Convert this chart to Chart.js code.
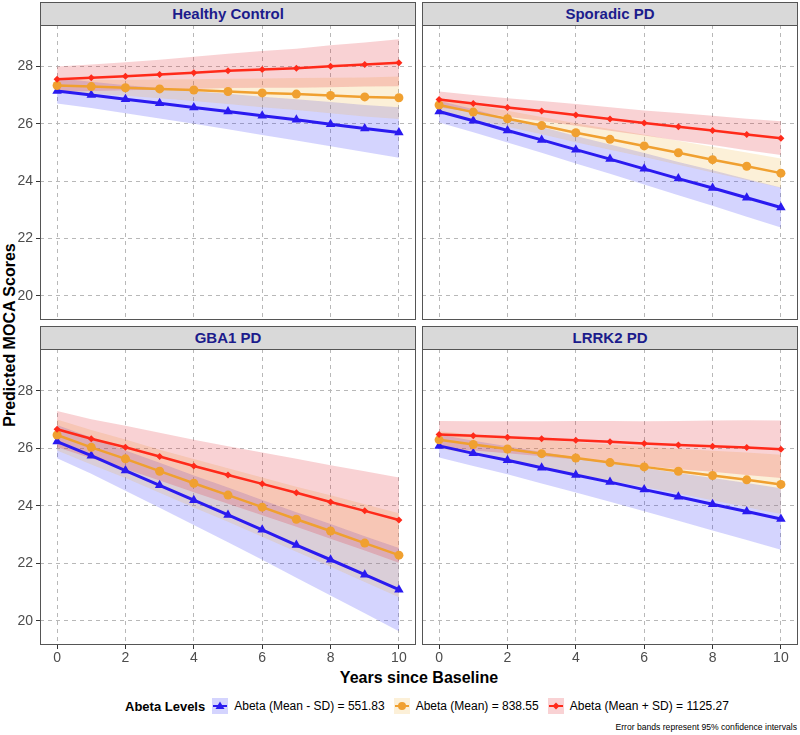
<!DOCTYPE html>
<html>
<head>
<meta charset="utf-8">
<script src="https://cdn.jsdelivr.net/npm/chart.js@4.4.0/dist/chart.umd.min.js"></script>
<style>
body { margin: 0; background: #fff; font-family: "Liberation Sans", Arial, sans-serif; }
#wrap { position: relative; width: 800px; height: 735px; overflow: hidden; }
.strip { position: absolute; background: #d9d9d9; border: 1px solid #555; box-sizing: border-box;
         color: #1c1c8c; font-weight: bold; font-size: 15px; text-align: center; }
.cv { position: absolute; }
#ytitle { position: absolute; left: 10px; top: 335px; transform: translate(-50%, -50%) rotate(-90deg);
          font-weight: bold; font-size: 16px; white-space: nowrap; color: #000; }
#xtitle { position: absolute; left: 419px; top: 669px; transform: translateX(-50%);
          font-weight: bold; font-size: 16px; white-space: nowrap; color: #000; }
#legend { position: absolute; left: 125px; top: 697px; height: 18px; display: flex; align-items: center;
          font-size: 12px; color: #000; white-space: nowrap; }
#legend b { font-size: 13px; margin-right: 7px; }
#legend .item { display: flex; align-items: center; margin-right: 9px; }
#legend svg { margin-right: 6px; }
#note { position: absolute; right: 3px; top: 722px; font-size: 8.6px; color: #000; white-space: nowrap; }
</style>
</head>
<body>
<div id="wrap">
  <div id="ytitle">Predicted MOCA Scores</div>
  <div id="xtitle">Years since Baseline</div>
  <div id="legend"></div>
  <div id="note">Error bands represent 95% confidence intervals</div>
</div>
<script>
const years = [0, 1, 2, 3, 4, 5, 6, 7, 8, 9, 10];
const xTicks = [0, 2, 4, 6, 8, 10];
const yTicks = [20, 22, 24, 26, 28];
const panelNames = ['Healthy Control', 'Sporadic PD', 'GBA1 PD', 'LRRK2 PD'];
const seriesLabels = ['Abeta (Mean - SD) = 551.83', 'Abeta (Mean) = 838.55', 'Abeta (Mean + SD) = 1125.27'];

// Healthy Control
const hcLow = [27.15, 27.01, 26.86, 26.72, 26.57, 26.43, 26.28, 26.14, 25.99, 25.84, 25.70];
const hcLowCI = [0.44, 0.46, 0.49, 0.53, 0.57, 0.62, 0.67, 0.72, 0.77, 0.82, 0.88];
const hcMid = [27.34, 27.30, 27.26, 27.22, 27.18, 27.13, 27.08, 27.04, 26.99, 26.94, 26.91];
const hcMidCI = [0.20, 0.24, 0.28, 0.33, 0.38, 0.44, 0.50, 0.56, 0.62, 0.68, 0.74];
const hcHigh = [27.56, 27.61, 27.66, 27.72, 27.78, 27.85, 27.90, 27.94, 28.01, 28.07, 28.13];
const hcHighCI = [0.44, 0.46, 0.49, 0.52, 0.56, 0.60, 0.64, 0.68, 0.73, 0.77, 0.82];

// Sporadic PD
const spLow = [26.43, 26.11, 25.77, 25.44, 25.10, 24.77, 24.43, 24.09, 23.76, 23.42, 23.08];
const spLowCI = [0.38, 0.40, 0.42, 0.45, 0.48, 0.51, 0.55, 0.58, 0.62, 0.66, 0.70];
const spMid = [26.66, 26.41, 26.18, 25.94, 25.69, 25.46, 25.23, 24.99, 24.75, 24.52, 24.28];
const spMidCI = [0.25, 0.26, 0.28, 0.30, 0.33, 0.36, 0.39, 0.42, 0.45, 0.48, 0.51];
const spHigh = [26.85, 26.71, 26.57, 26.45, 26.31, 26.17, 26.03, 25.90, 25.77, 25.63, 25.50];
const spHighCI = [0.28, 0.30, 0.32, 0.35, 0.38, 0.41, 0.44, 0.48, 0.51, 0.55, 0.59];

// GBA1 PD
const gbLow = [26.23, 25.74, 25.22, 24.71, 24.19, 23.68, 23.16, 22.63, 22.12, 21.60, 21.08];
const gbLowCI = [0.58, 0.63, 0.70, 0.78, 0.86, 0.95, 1.04, 1.14, 1.24, 1.34, 1.45];
const gbMid = [26.46, 26.03, 25.63, 25.20, 24.78, 24.37, 23.95, 23.53, 23.12, 22.70, 22.28];
const gbMidCI = [0.54, 0.60, 0.67, 0.75, 0.84, 0.93, 1.03, 1.13, 1.24, 1.35, 1.46];
const gbHigh = [26.66, 26.33, 26.03, 25.71, 25.38, 25.07, 24.76, 24.45, 24.13, 23.82, 23.50];
const gbHighCI = [0.63, 0.68, 0.75, 0.83, 0.91, 1.00, 1.09, 1.18, 1.28, 1.38, 1.48];

// LRRK2 PD
const lrLow = [26.08, 25.82, 25.58, 25.32, 25.07, 24.82, 24.56, 24.31, 24.05, 23.80, 23.54];
const lrLowCI = [0.40, 0.44, 0.49, 0.55, 0.61, 0.68, 0.75, 0.83, 0.91, 0.99, 1.07];
const lrMid = [26.29, 26.13, 25.97, 25.81, 25.66, 25.50, 25.35, 25.20, 25.05, 24.90, 24.74];
const lrMidCI = [0.30, 0.35, 0.41, 0.48, 0.55, 0.63, 0.70, 0.78, 0.86, 0.95, 1.03];
const lrHigh = [26.48, 26.43, 26.38, 26.33, 26.28, 26.22, 26.16, 26.11, 26.07, 26.02, 25.96];
const lrHighCI = [0.47, 0.51, 0.56, 0.61, 0.67, 0.73, 0.78, 0.84, 0.89, 0.95, 1.00];

const lineColors = ['#2a1af0', '#f0a030', '#ff2a1a'];
const bandColors = ['rgba(40,40,250,0.2)', 'rgba(240,180,60,0.2)', 'rgba(225,30,40,0.2)'];
const pointStyles = ['triangle', 'circle', 'rectRot'];
const pointSizes = [5.5, 4.5, 3.5];
const lineWidths = [3, 2.5, 2.5];

const panelData = [
    [[hcLow, hcLowCI], [hcMid, hcMidCI], [hcHigh, hcHighCI]],
    [[spLow, spLowCI], [spMid, spMidCI], [spHigh, spHighCI]],
    [[gbLow, gbLowCI], [gbMid, gbMidCI], [gbHigh, gbHighCI]],
    [[lrLow, lrLowCI], [lrMid, lrMidCI], [lrHigh, lrHighCI]]
];

// panel plot areas (left, top, width, height) of the facet grid
const layout = [
    { x: 40, y: 25, w: 376, h: 295, stripY: 2, left: true, bottom: false },
    { x: 422, y: 25, w: 376, h: 295, stripY: 2, left: false, bottom: false },
    { x: 40, y: 349, w: 376, h: 296, stripY: 326, left: true, bottom: true },
    { x: 422, y: 349, w: 376, h: 296, stripY: 326, left: false, bottom: true }
];

const yAxisW = 40;
const xAxisH = 22;

const boxPlugin = {
    id: 'panelBox',
    afterDraw(chart) {
        const a = chart.chartArea;
        const ctx = chart.ctx;
        ctx.save();
        ctx.strokeStyle = '#555';
        ctx.lineWidth = 1;
        ctx.strokeRect(Math.round(a.left) + 0.5, Math.round(a.top) + 0.5,
            Math.round(a.right - a.left) - 1, Math.round(a.bottom - a.top) - 1);
        ctx.restore();
    }
};

function makeDatasets(series) {
    const sets = [];
    series.forEach(([mean, ci], i) => {
        const lowerIdx = sets.length;
        sets.push({
            data: years.map((x, k) => ({ x, y: mean[k] - ci[k] })),
            borderWidth: 0, pointRadius: 0, fill: false, order: 20 - i * 2
        });
        sets.push({
            data: years.map((x, k) => ({ x, y: mean[k] + ci[k] })),
            borderWidth: 0, pointRadius: 0, backgroundColor: bandColors[i],
            fill: { target: lowerIdx }, order: 19 - i * 2
        });
    });
    series.forEach(([mean], i) => {
        sets.push({
            label: seriesLabels[i],
            data: years.map((x, k) => ({ x, y: mean[k] })),
            borderColor: lineColors[i], backgroundColor: lineColors[i],
            borderWidth: lineWidths[i], pointStyle: pointStyles[i],
            pointRadius: pointSizes[i], pointBorderWidth: 0,
            fill: false, order: 3 - i
        });
    });
    return sets;
}

const wrap = document.getElementById('wrap');

layout.forEach((p, idx) => {
    const strip = document.createElement('div');
    strip.className = 'strip';
    strip.style.left = p.x + 'px';
    strip.style.top = p.stripY + 'px';
    strip.style.width = p.w + 'px';
    strip.style.height = (p.y - p.stripY + 1) + 'px';
    strip.style.lineHeight = (p.y - p.stripY - 1) + 'px';
    strip.textContent = panelNames[idx];
    wrap.appendChild(strip);

    const cw = p.w + (p.left ? yAxisW : 0);
    const ch = p.h + (p.bottom ? xAxisH : 0);
    const canvas = document.createElement('canvas');
    canvas.className = 'cv';
    canvas.style.left = (p.x - (p.left ? yAxisW : 0)) + 'px';
    canvas.style.top = p.y + 'px';
    canvas.style.width = cw + 'px';
    canvas.style.height = ch + 'px';
    canvas.width = cw;
    canvas.height = ch;
    wrap.appendChild(canvas);

    new Chart(canvas, {
        type: 'line',
        data: { datasets: makeDatasets(panelData[idx]) },
        options: {
            responsive: false,
            animation: false,
            layout: { padding: 0, autoPadding: false },
            plugins: { legend: { display: false }, tooltip: { enabled: false } },
            scales: {
                x: {
                    type: 'linear', min: -0.5, max: 10.5,
                    afterBuildTicks: s => { s.ticks = xTicks.map(v => ({ value: v })); },
                    afterFit: s => {
                        s.height = p.bottom ? xAxisH : 0;
                        s.paddingLeft = 0; s.paddingRight = 0;
                    },
                    grid: { color: '#b8b8b8', lineWidth: 1, drawTicks: p.bottom, tickLength: 4,
                            tickColor: '#333', tickBorderDash: [] },
                    border: { display: false, dash: [4, 4] },
                    ticks: { display: p.bottom, padding: 1, color: '#4d4d4d',
                             font: { size: 14, family: '"Liberation Sans", Arial, sans-serif' },
                             maxRotation: 0 }
                },
                y: {
                    type: 'linear', min: 19.155, max: 29.45,
                    afterBuildTicks: s => { s.ticks = yTicks.map(v => ({ value: v })); },
                    afterFit: s => {
                        s.width = p.left ? yAxisW : 0;
                        s.paddingTop = 0; s.paddingBottom = 0;
                    },
                    grid: { color: '#b8b8b8', lineWidth: 1, drawTicks: p.left, tickLength: 4,
                            tickColor: '#333', tickBorderDash: [] },
                    border: { display: false, dash: [4, 4] },
                    ticks: { display: p.left, padding: 3, color: '#4d4d4d',
                             font: { size: 14, family: '"Liberation Sans", Arial, sans-serif' } }
                }
            }
        },
        plugins: [boxPlugin]
    });
});

// legend
const legend = document.getElementById('legend');
legend.innerHTML = '<b>Abeta Levels</b>';
seriesLabels.forEach((label, i) => {
    const item = document.createElement('div');
    item.className = 'item';
    let marker;
    if (pointStyles[i] === 'triangle') marker = '<polygon points="8,3.5 12.5,11 3.5,11" fill="' + lineColors[i] + '"/>';
    else if (pointStyles[i] === 'circle') marker = '<circle cx="8" cy="8" r="4" fill="' + lineColors[i] + '"/>';
    else marker = '<polygon points="8,4.5 11.5,8 8,11.5 4.5,8" fill="' + lineColors[i] + '"/>';
    item.innerHTML = '<svg width="16" height="16"><rect x="0" y="0" width="16" height="16" fill="' + bandColors[i] +
        '"/><line x1="1" y1="8" x2="15" y2="8" stroke="' + lineColors[i] + '" stroke-width="2"/>' + marker +
        '</svg><span>' + label + '</span>';
    legend.appendChild(item);
});
</script>
</body>
</html>
